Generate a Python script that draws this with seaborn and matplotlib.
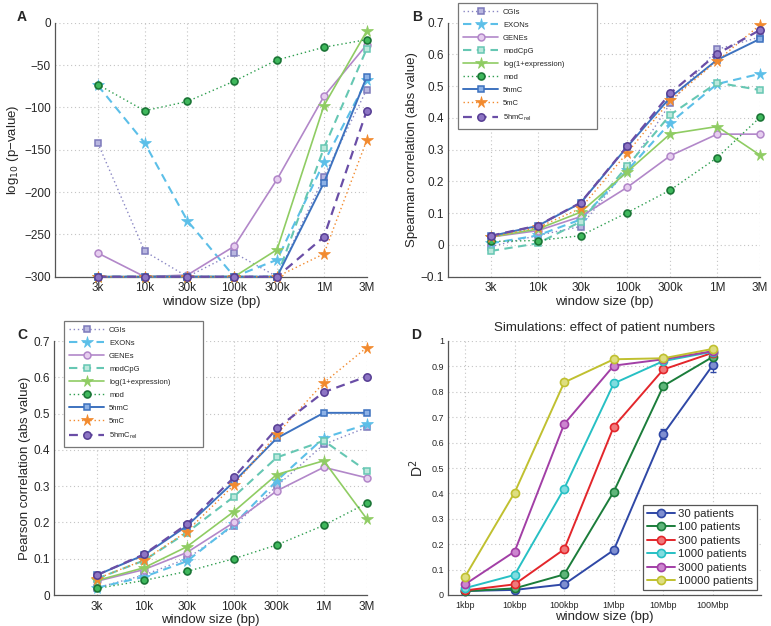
import numpy as np
import pandas as pd
import matplotlib
matplotlib.use("Agg")
import matplotlib.pyplot as plt
import seaborn as sns
from matplotlib.ticker import FixedLocator, FixedFormatter, NullLocator

# ---------------- data ----------------
windows = [3e3, 1e4, 3e4, 1e5, 3e5, 1e6, 3e6]
window_labels = ["3k", "10k", "30k", "100k", "300k", "1M", "3M"]
series_names = ["CGIs", "EXONs", "GENEs", "modCpG", "log(1+expression)", "mod",
                "5hmC", "5mC", "5hmC$_{\\rm rel}$"]

# Panel A: log10(p-value)
pval_CGIs = [-142, -270, -300, -272, -300, -182, -79]
pval_EXONs = [-74, -142, -234, -300, -280, -165, -68]
pval_GENEs = [-272, -300, -298, -264, -185, -87, -26]
pval_modCpG = [-300, -300, -300, -300, -300, -148, -31]
pval_logexpr = [-300, -300, -300, -300, -268, -98, -10]
pval_mod = [-73, -104, -93, -69, -44, -29, -20]
pval_5hmC = [-300, -300, -300, -300, -300, -189, -64]
pval_5mC = [-300, -300, -300, -300, -300, -273, -139]
pval_5hmCrel = [-300, -300, -300, -300, -300, -253, -104]

# Panel B: Spearman correlation
sp_CGIs = [-0.005, 0.03, 0.058, 0.24, 0.446, 0.616, 0.655]
sp_EXONs = [0.005, 0.03, 0.08, 0.235, 0.385, 0.507, 0.539]
sp_GENEs = [0.025, 0.045, 0.089, 0.182, 0.281, 0.349, 0.349]
sp_modCpG = [-0.019, 0.005, 0.073, 0.249, 0.41, 0.511, 0.488]
sp_logexpr = [0.025, 0.05, 0.103, 0.231, 0.35, 0.373, 0.283]
sp_mod = [0.011, 0.014, 0.029, 0.102, 0.173, 0.275, 0.402]
sp_5hmC = [0.028, 0.06, 0.132, 0.31, 0.465, 0.583, 0.649]
sp_5mC = [0.025, 0.055, 0.115, 0.291, 0.455, 0.58, 0.693]
sp_5hmCrel = [0.029, 0.061, 0.133, 0.312, 0.478, 0.602, 0.677]

# Panel C: Pearson correlation
pe_CGIs = [0.02, 0.055, 0.1, 0.19, 0.3, 0.415, 0.462]
pe_EXONs = [0.02, 0.05, 0.093, 0.195, 0.315, 0.433, 0.47]
pe_GENEs = [0.038, 0.07, 0.117, 0.2, 0.287, 0.352, 0.323]
pe_modCpG = [0.045, 0.095, 0.172, 0.271, 0.379, 0.425, 0.342]
pe_logexpr = [0.04, 0.075, 0.133, 0.23, 0.332, 0.37, 0.21]
pe_mod = [0.018, 0.04, 0.065, 0.1, 0.138, 0.192, 0.253]
pe_5hmC = [0.055, 0.11, 0.19, 0.312, 0.432, 0.502, 0.502]
pe_5mC = [0.045, 0.096, 0.175, 0.303, 0.443, 0.585, 0.682]
pe_5hmCrel = [0.055, 0.112, 0.195, 0.324, 0.459, 0.559, 0.602]

# Panel D: simulations
sim_windows = [1e3, 1e4, 1e5, 1e6, 1e7, 1e8]
sim_labels = ["1kbp", "10kbp", "100kbp", "1Mbp", "10Mbp", "100Mbp"]
patient_labels = ["30 patients", "100 patients", "300 patients",
                  "1000 patients", "3000 patients", "10000 patients"]
d2_30 = [0.016, 0.02, 0.042, 0.177, 0.634, 0.906]
d2_100 = [0.015, 0.026, 0.081, 0.407, 0.823, 0.938]
d2_300 = [0.018, 0.042, 0.18, 0.663, 0.888, 0.954]
d2_1000 = [0.027, 0.079, 0.419, 0.833, 0.921, 0.958]
d2_3000 = [0.042, 0.171, 0.673, 0.903, 0.928, 0.96]
d2_10000 = [0.072, 0.403, 0.837, 0.928, 0.932, 0.969]
err_30 = [0.0, 0.0, 0.0, 0.005, 0.02, 0.028]

# ---------------- styles ----------------
DOT = (0, (1, 2))
DASH = (0, (4, 2.6))
styles = [
    dict(color="#8a87c4", marker="s", ls=DOT, lw=1.0, ms=4.3, mfc="#b9b7e0", mec="#7c79bb", mew=1.1),
    dict(color="#5cbfe8", marker="*", ls=DASH, lw=1.5, ms=8.5, mfc="#5cbfe8", mec="#5cbfe8", mew=0.5),
    dict(color="#b287c9", marker="o", ls="-", lw=1.2, ms=5, mfc="#e6cdef", mec="#b287c9", mew=1.1),
    dict(color="#66c7b3", marker="s", ls=DASH, lw=1.5, ms=4.5, mfc="#bce8dc", mec="#66c7b3", mew=1.1),
    dict(color="#8fcc63", marker="*", ls="-", lw=1.2, ms=8.5, mfc="#8fcc63", mec="#8fcc63", mew=0.5),
    dict(color="#2e9e4f", marker="o", ls=DOT, lw=1.0, ms=5, mfc="#3fb85c", mec="#1b7536", mew=1.2),
    dict(color="#3d72bf", marker="s", ls="-", lw=1.4, ms=4.5, mfc="#8db2e6", mec="#3d72bf", mew=1.1),
    dict(color="#f28a2e", marker="*", ls=DOT, lw=1.0, ms=8.5, mfc="#f28a2e", mec="#f28a2e", mew=0.5),
    dict(color="#6a4ea6", marker="o", ls=DASH, lw=1.6, ms=5.3, mfc="#8d75c4", mec="#563d93", mew=1.1),
]
sim_colors = ["#2f48a6", "#1b7d3b", "#e3262b", "#27c0c4", "#a23fa6", "#c0c030"]
sim_faces = ["#7f8fd0", "#5fb57a", "#f07a7c", "#80dcdf", "#cc85cf", "#dede80"]

FONT = "Liberation Sans"
plt.rcParams["font.family"] = [FONT, "DejaVu Sans"]
sns.set_style("white")
plt.rcParams["font.family"] = [FONT, "DejaVu Sans"]
plt.rcParams["axes.unicode_minus"] = True

fig = plt.figure(figsize=(7.71, 6.26), dpi=100)
W, H = 771, 626


def add_ax(x0, x1, ytop, ybot):
    return fig.add_axes([x0 / W, 1 - ybot / H, (x1 - x0) / W, (ybot - ytop) / H])


def style_axes(ax, yticks, ylabels, xticks, xlabels, xfs=8.5, yfs=8.5):
    ax.set_xscale("log")
    ax.xaxis.set_major_locator(FixedLocator(xticks))
    ax.xaxis.set_major_formatter(FixedFormatter(xlabels))
    ax.xaxis.set_minor_locator(NullLocator())
    ax.set_yticks(yticks)
    ax.set_yticklabels(ylabels)
    for s in ["top", "right"]:
        ax.spines[s].set_visible(False)
    for s in ["left", "bottom"]:
        ax.spines[s].set_color("#555555")
        ax.spines[s].set_linewidth(0.9)
    ax.tick_params(axis="x", direction="in", length=3, color="#555555", labelsize=xfs, pad=4)
    ax.tick_params(axis="y", direction="in", length=3, color="#555555", labelsize=yfs, pad=3)
    ax.grid(True, which="major", color="#c4c4c4", linestyle=(0, (1, 2.5)), linewidth=0.8)
    ax.set_axisbelow(True)


def draw_series(ax, x, ys):
    for name, y, st in zip(series_names, ys, styles):
        sns.lineplot(x=x, y=y, ax=ax, color=st["color"], marker=st["marker"],
                     linestyle=st["ls"], linewidth=st["lw"], markersize=st["ms"],
                     markerfacecolor=st["mfc"], markeredgecolor=st["mec"],
                     markeredgewidth=st["mew"], label=name, legend=False,
                     clip_on=False, zorder=3)


def fmt(v):
    return "%g" % v if v >= 0 else "\u2212%g" % (-v)


# ---------------- Panel A ----------------
axA = add_ax(55, 366.7, 22.7, 276.7)
axA.set_xscale("log")
draw_series(axA, windows, [pval_CGIs, pval_EXONs, pval_GENEs, pval_modCpG, pval_logexpr,
                           pval_mod, pval_5hmC, pval_5mC, pval_5hmCrel])
axA.set_xlim(1000, 3e6)
axA.set_ylim(-300, 0)
ytA = list(range(-300, 1, 50))
style_axes(axA, ytA, [fmt(v) for v in ytA], windows, window_labels)
axA.set_xlabel("window size (bp)", fontsize=9.5, labelpad=1)
axA.set_ylabel("log$_{10}$ (p\u2212value)", fontsize=9.5, labelpad=2)

# ---------------- Panel B ----------------
axB = add_ax(448, 760, 22.7, 276.7)
axB.set_xscale("log")
draw_series(axB, windows, [sp_CGIs, sp_EXONs, sp_GENEs, sp_modCpG, sp_logexpr,
                           sp_mod, sp_5hmC, sp_5mC, sp_5hmCrel])
axB.set_xlim(1000, 3e6)
axB.set_ylim(-0.1, 0.7)
ytB = [round(v, 1) for v in np.arange(-0.1, 0.71, 0.1)]
style_axes(axB, ytB, [fmt(v) for v in ytB], windows, window_labels)
axB.set_xlabel("window size (bp)", fontsize=9.5, labelpad=1)
axB.set_ylabel("Spearman correlation (abs value)", fontsize=9.5, labelpad=2)

# ---------------- Panel C ----------------
axC = add_ax(54, 366.7, 341, 595)
axC.set_xscale("log")
draw_series(axC, windows, [pe_CGIs, pe_EXONs, pe_GENEs, pe_modCpG, pe_logexpr,
                           pe_mod, pe_5hmC, pe_5mC, pe_5hmCrel])
axC.set_xlim(1000, 3e6)
axC.set_ylim(0, 0.7)
ytC = [round(v, 1) for v in np.arange(0, 0.71, 0.1)]
style_axes(axC, ytC, [fmt(v) for v in ytC], windows, window_labels)
axC.set_xlabel("window size (bp)", fontsize=9.5, labelpad=1)
axC.set_ylabel("Pearson correlation (abs value)", fontsize=9.5, labelpad=2)

for ax, top in [(axB, 1.078), (axC, 1.079)]:
    leg = ax.legend(loc="upper left", bbox_to_anchor=(0.032, top - 0.49, 0.445, 0.49),
                    mode="expand", borderaxespad=0,
                    fontsize=5.5, handlelength=4.6, labelspacing=0.75,
                    handletextpad=0.6, borderpad=0.7, fancybox=False,
                    framealpha=1, edgecolor="#777777")
    leg.get_frame().set_linewidth(0.9)
    leg.set_zorder(10)

# ---------------- Panel D ----------------
axD = add_ax(448, 761, 341, 595)
axD.set_xscale("log")
for lab, y, c, fc in zip(patient_labels, [d2_30, d2_100, d2_300, d2_1000, d2_3000, d2_10000],
                         sim_colors, sim_faces):
    sns.lineplot(x=sim_windows, y=y, ax=axD, color=c, marker="o", linestyle="-",
                 linewidth=1.4, markersize=5.8, markerfacecolor=fc, markeredgecolor=c,
                 markeredgewidth=1.2, label=lab, legend=False, clip_on=False, zorder=3)
axD.errorbar(sim_windows, d2_30, yerr=err_30, fmt="none", ecolor=sim_colors[0],
             elinewidth=0.8, capsize=2, zorder=2)
axD.set_xlim(454, 9.3e8)
axD.set_ylim(0, 1)
ytD = [round(v, 1) for v in np.arange(0, 1.01, 0.1)]
style_axes(axD, ytD, [fmt(v) for v in ytD], sim_windows, sim_labels, xfs=6.5, yfs=6.5)
axD.set_xlabel("window size (bp)", fontsize=9.5, labelpad=1)
axD.set_ylabel("D$^2$", fontsize=10, labelpad=4)
axD.set_title("Simulations: effect of patient numbers", fontsize=9.5, pad=7)
legD = axD.legend(loc="lower right", bbox_to_anchor=(0.987, 0.02), borderaxespad=0,
                  fontsize=8.2, handlelength=2.4, labelspacing=0.3, handletextpad=0.3,
                  borderpad=0.35, fancybox=False, framealpha=1, edgecolor="#555555")
legD.get_frame().set_linewidth(0.9)

# panel letters
for txt, x, y in [("A", 22, 17), ("B", 417, 17), ("C", 22, 335), ("D", 416, 335)]:
    fig.text(x / W, 1 - y / H, txt, fontsize=10, fontweight="bold", ha="center", va="center")

fig.savefig("out.png", dpi=100)
